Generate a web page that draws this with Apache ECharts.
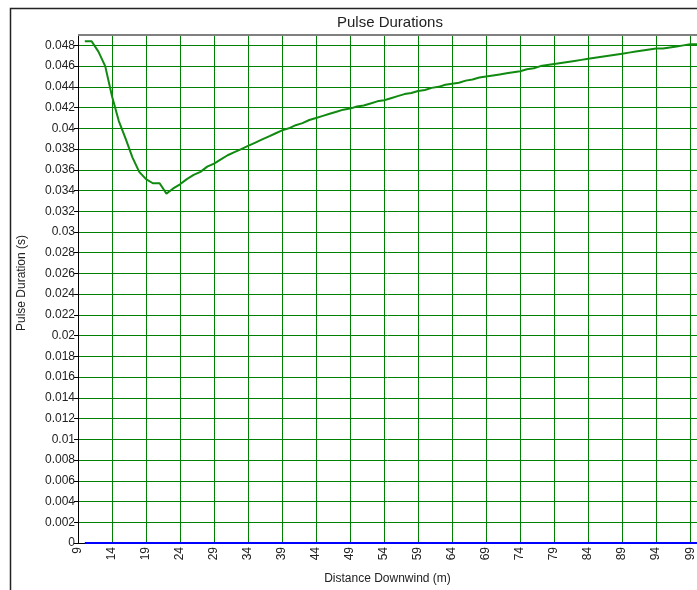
<!DOCTYPE html>
<html>
<head>
<meta charset="utf-8">
<title>Pulse Durations</title>
<script src="https://cdn.jsdelivr.net/npm/echarts@6/dist/echarts.min.js"></script>
<style>
  html, body { margin: 0; padding: 0; background: #ffffff; }
  #chart { width: 697px; height: 590px; }
</style>
</head>
<body>
<div id="chart"></div>
<script>
// Distance downwind (m) for each sample
const distances = [
  10, 11, 12, 13, 14, 15, 16, 17, 18, 19,
  20, 21, 22, 23, 24, 25, 26, 27, 28, 29,
  30, 31, 32, 33, 34, 35, 36, 37, 38, 39,
  40, 41, 42, 43, 44, 45, 46, 47, 48, 49,
  50, 51, 52, 53, 54, 55, 56, 57, 58, 59,
  60, 61, 62, 63, 64, 65, 66, 67, 68, 69,
  70, 71, 72, 73, 74, 75, 76, 77, 78, 79,
  80, 81, 82, 83, 84, 85, 86, 87, 88, 89,
  90, 91, 92, 93, 94, 95, 96, 97, 98, 99,
  100
];

// Pulse duration (s) at each distance
const pulseDuration = [
  0.0484, 0.0484, 0.0474, 0.0460, 0.0431, 0.0407, 0.0390, 0.0372, 0.0358, 0.0351,
  0.0347, 0.0347, 0.0337, 0.0342, 0.0346, 0.0351, 0.0355, 0.0358, 0.0363, 0.0366,
  0.0370, 0.0374, 0.0377, 0.0380, 0.0383, 0.0386, 0.0389, 0.0392, 0.0395, 0.0398,
  0.0400, 0.0403, 0.0405, 0.0408, 0.0410, 0.0412, 0.0414, 0.0416, 0.0418, 0.0419,
  0.0421, 0.0422, 0.0424, 0.0426, 0.0427, 0.0429, 0.0431, 0.0433, 0.0434, 0.0436,
  0.0437, 0.0439, 0.0440, 0.0442, 0.0443, 0.0444, 0.0446, 0.0447, 0.0449, 0.0450,
  0.0451, 0.0452, 0.0453, 0.0454, 0.0455, 0.0457, 0.0458, 0.0460, 0.0461, 0.0462,
  0.0463, 0.0464, 0.0465, 0.0466, 0.0467, 0.0468, 0.0469, 0.0470, 0.0471, 0.0472,
  0.0473, 0.0474, 0.0475, 0.0476, 0.0477, 0.0477, 0.0478, 0.0479, 0.0480, 0.0481,
  0.0481
];

// Baseline series (zero duration) drawn along the x axis
const baseline = [
  0, 0, 0, 0, 0, 0, 0, 0, 0, 0,
  0, 0, 0, 0, 0, 0, 0, 0, 0, 0,
  0, 0, 0, 0, 0, 0, 0, 0, 0, 0,
  0, 0, 0, 0, 0, 0, 0, 0, 0, 0,
  0, 0, 0, 0, 0, 0, 0, 0, 0, 0,
  0, 0, 0, 0, 0, 0, 0, 0, 0, 0,
  0, 0, 0, 0, 0, 0, 0, 0, 0, 0,
  0, 0, 0, 0, 0, 0, 0, 0, 0, 0,
  0, 0, 0, 0, 0, 0, 0, 0, 0, 0,
  0
];

// Axis settings
const xMin = 9, xMax = 100, xStep = 5;
const yMin = 0, yMax = 0.049, yStep = 0.002;

const titleText = 'Pulse Durations';
const xName = 'Distance Downwind (m)';
const yName = 'Pulse Duration (s)';

const FONT = '"Liberation Sans", Arial, sans-serif';
const TEXT = '#222222';
const GRID_GREEN = '#008000';

function pairs(xs, ys) {
  return xs.map((x, i) => [x, ys[i]]);
}

const chart = echarts.init(document.getElementById('chart'), null, { renderer: 'canvas' });

chart.setOption({
  animation: false,
  backgroundColor: '#ffffff',
  textStyle: { fontFamily: FONT },
  title: {
    text: titleText,
    left: 332,
    top: 10,
    textStyle: { fontFamily: FONT, fontSize: 15, fontWeight: 'normal', color: TEXT }
  },
  grid: {
    left: 78,
    top: 35,
    width: 620,
    height: 508,
    containLabel: false
  },
  xAxis: {
    type: 'value',
    min: xMin,
    max: xMax,
    interval: xStep,
    name: xName,
    nameLocation: 'middle',
    nameGap: 30,
    nameTextStyle: { fontFamily: FONT, fontSize: 12, color: TEXT },
    axisLine: { show: true, onZero: false, lineStyle: { color: '#000000', width: 1 } },
    axisTick: { show: false },
    axisLabel: {
      rotate: 90,
      margin: 4,
      fontFamily: FONT,
      fontSize: 12,
      color: TEXT,
      showMaxLabel: false,
      formatter: v => (v === xMax ? '' : String(v))
    },
    splitLine: { show: true, lineStyle: { color: GRID_GREEN, width: 1 } }
  },
  yAxis: {
    type: 'value',
    min: yMin,
    max: yMax,
    interval: yStep,
    name: yName,
    nameLocation: 'middle',
    nameGap: 50,
    nameRotate: 90,
    nameTextStyle: { fontFamily: FONT, fontSize: 12, color: TEXT, padding: [0, 0, 0, 12] },
    axisLine: { show: true, lineStyle: { color: '#000000', width: 1 } },
    axisTick: { show: true, length: 4, lineStyle: { color: '#000000' } },
    axisLabel: {
      margin: 3,
      fontFamily: FONT,
      fontSize: 12,
      color: TEXT,
      showMaxLabel: false,
      formatter: v => {
        const k = v / yStep;
        if (Math.abs(k - Math.round(k)) > 1e-6) return '';
        return String(+v.toFixed(3));
      }
    },
    splitLine: { show: true, lineStyle: { color: GRID_GREEN, width: 1 } }
  },
  graphic: [
    {
      type: 'rect',
      silent: true,
      z: 100,
      shape: { x: 10.5, y: 8.5, width: 720, height: 620 },
      style: { fill: 'none', stroke: '#222222', lineWidth: 1.5 }
    },
    {
      type: 'line',
      silent: true,
      z: 100,
      shape: { x1: 78, y1: 35, x2: 697, y2: 35 },
      style: { stroke: '#808080', lineWidth: 2 }
    }
  ],
  series: [
    {
      name: 'Pulse Duration',
      type: 'line',
      data: pairs(distances, pulseDuration),
      showSymbol: false,
      symbol: 'none',
      lineStyle: { color: '#108a10', width: 2 },
      z: 3
    },
    {
      name: 'Baseline',
      type: 'line',
      data: pairs(distances, baseline),
      showSymbol: false,
      symbol: 'none',
      lineStyle: { color: '#0000ff', width: 2 },
      z: 4
    }
  ]
});
</script>
</body>
</html>
